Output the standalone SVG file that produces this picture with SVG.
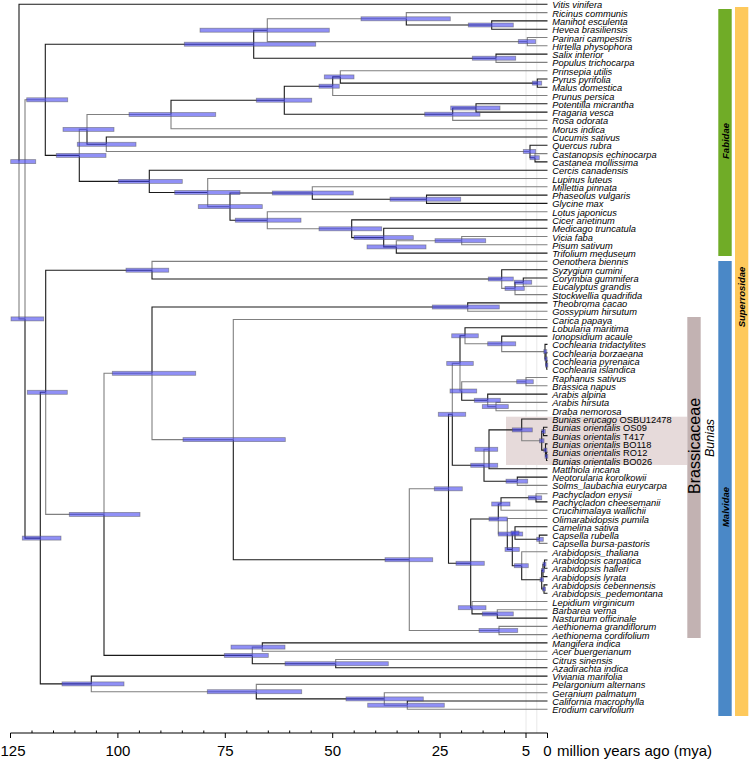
<svg xmlns="http://www.w3.org/2000/svg" width="750" height="760" viewBox="0 0 750 760">
<style>
.k{fill:none;stroke:#1a1a1a;stroke-width:1.1}
.g{fill:none;stroke:#808080;stroke-width:1.1}
.ci{fill:#4646f0;fill-opacity:0.6;stroke:#555;stroke-opacity:0.55;stroke-width:0.8}
.tx{font-family:"Liberation Sans",Arial,sans-serif;font-style:italic;font-size:9.3px;fill:#000}
.up{font-style:normal}
.ax{font-family:"Liberation Sans",Arial,sans-serif;font-size:15px;fill:#000}
.cl{font-family:"Liberation Sans",Arial,sans-serif;font-weight:bold;font-style:italic;font-size:9.5px;fill:#000}
.grid{stroke:#e8e8e8;stroke-width:1}
.tick{stroke:#000;stroke-width:1}
</style>
<rect width="750" height="760" fill="#fff"/>
<line class="grid" x1="526" y1="0" x2="526" y2="733"/>
<line class="grid" x1="536.8" y1="0" x2="536.8" y2="733"/>
<g id="bunias-highlight"><rect x="506" y="416.7" width="181.3" height="48.3" fill="#e6dada"/></g>
<g id="clade-bars">
<rect x="718.3" y="9" width="13.4" height="247" fill="#70ac27"/>
<rect x="718.3" y="261" width="13.4" height="455" fill="#4a88c7"/>
<rect x="735" y="7" width="13.3" height="709" fill="#fec95c"/>
<rect x="687.3" y="317" width="13.4" height="321" fill="#c2b2b2"/>
<text class="cl" transform="translate(729.3,141) rotate(-90)" text-anchor="middle">Fabidae</text>
<text class="cl" transform="translate(729.3,507) rotate(-90)" text-anchor="middle">Malvidae</text>
<text class="cl" transform="translate(745,297) rotate(-90)" text-anchor="middle">Superrosidae</text>
<text transform="translate(699.8,446) rotate(-90)" text-anchor="middle" font-family="Liberation Sans, Arial, sans-serif" font-size="16">Brassicaceae</text>
<text transform="translate(714.3,438) rotate(-90)" text-anchor="middle" font-family="Liberation Sans, Arial, sans-serif" font-size="12.5" font-style="italic">Bunias</text>
</g>
<g id="connectors">
<path class="k" d="M19 161.6V4.3H547.5"/>
<path class="k" d="M25 318.9V538.1H40.3"/>
<path class="k" d="M45.3 99.8V44.2H253.7"/>
<path class="k" d="M45.3 99.8V155.4H79.3"/>
<path class="k" d="M253.7 44.2V30.2H267.3"/>
<path class="k" d="M253.7 44.2V58.2H496"/>
<path class="k" d="M406.3 18.8V25H491.7"/>
<path class="k" d="M491.7 25V20.9H547.5"/>
<path class="k" d="M491.7 25V29.2H547.5"/>
<path class="k" d="M496 58.2V54.1H547.5"/>
<path class="k" d="M79.3 155.4V181.4H149.3"/>
<path class="k" d="M87 129.4V144.3H106.3"/>
<path class="k" d="M171 114.5V100.2H284.3"/>
<path class="k" d="M284.3 100.2V86.2H332.7"/>
<path class="k" d="M284.3 100.2V114.2H452.7"/>
<path class="k" d="M332.7 86.2V76.9H340.3"/>
<path class="k" d="M340.3 76.9V83.1H537.3"/>
<path class="k" d="M537.3 83.1V79H547.5"/>
<path class="k" d="M537.3 83.1V87.2H547.5"/>
<path class="k" d="M452.7 114.2V108H476"/>
<path class="k" d="M476 108V103.8H547.5"/>
<path class="k" d="M476 108V112.1H547.5"/>
<path class="k" d="M106.3 144.3V137H547.5"/>
<path class="k" d="M530 151.5V145.3H547.5"/>
<path class="k" d="M530 151.5V157.7H535"/>
<path class="k" d="M535 157.7V161.9H547.5"/>
<path class="k" d="M149.3 181.4V170.2H547.5"/>
<path class="k" d="M149.3 181.4V192.5H207.7"/>
<path class="k" d="M230 206.6V193H312.3"/>
<path class="k" d="M230 206.6V220.2H267.3"/>
<path class="k" d="M312.3 193V199.2H426.5"/>
<path class="k" d="M426.5 199.2V195.1H547.5"/>
<path class="k" d="M426.5 199.2V203.4H547.5"/>
<path class="k" d="M351.7 228.8V219.9H547.5"/>
<path class="k" d="M351.7 228.8V237.6H383.7"/>
<path class="k" d="M383.7 237.6V228.2H547.5"/>
<path class="k" d="M383.7 237.6V246.9H396.3"/>
<path class="k" d="M396.3 246.9V253.1H547.5"/>
<path class="k" d="M40.3 538.1V392.3H45.7"/>
<path class="k" d="M40.3 538.1V683.9H91.3"/>
<path class="k" d="M45.7 392.3V270.2H152"/>
<path class="k" d="M152 270.2V279H501.7"/>
<path class="k" d="M501.7 279V269.7H547.5"/>
<path class="k" d="M515 288.4V282.2H523.3"/>
<path class="k" d="M523.3 282.2V278H547.5"/>
<path class="k" d="M104 514.4V655.4H252.3"/>
<path class="k" d="M152 373.3V307H467.7"/>
<path class="k" d="M467.7 307V302.9H547.5"/>
<path class="k" d="M233.3 439.6V559.7H409.3"/>
<path class="k" d="M448.5 488.8V414.3H452.3"/>
<path class="k" d="M448.5 488.8V563.3H470.7"/>
<path class="k" d="M452.3 414.3V465.3H484"/>
<path class="k" d="M460 363.4V335.8H465"/>
<path class="k" d="M465 335.8V327.8H547.5"/>
<path class="k" d="M501.7 343.8V336.1H547.5"/>
<path class="k" d="M545 351.6V344.4H547.5"/>
<path class="k" d="M545 351.6V358.9H546"/>
<path class="k" d="M546 358.9V352.7H547.5"/>
<path class="k" d="M546 358.9V365.1H546.7"/>
<path class="k" d="M546.7 365.1V360.9H547.5"/>
<path class="k" d="M546.7 365.1V369.2H547.5"/>
<path class="k" d="M461.7 391V400.3H487.7"/>
<path class="k" d="M487.7 400.3V394.1H547.5"/>
<path class="k" d="M484 465.3V481.2H517.3"/>
<path class="k" d="M489 449.3V429.9H521.7"/>
<path class="k" d="M489 449.3V468.8H547.5"/>
<path class="k" d="M521.7 429.9V419H547.5"/>
<path class="k" d="M541.7 440.8V431.4H543.5"/>
<path class="k" d="M541.7 440.8V450.1H545.5"/>
<path class="k" d="M543.5 431.4V427.3H547.5"/>
<path class="k" d="M543.5 431.4V435.6H547.5"/>
<path class="k" d="M545.5 450.1V443.9H547.5"/>
<path class="k" d="M545.5 450.1V456.3H546.5"/>
<path class="k" d="M546.5 456.3V452.2H547.5"/>
<path class="k" d="M546.5 456.3V460.5H547.5"/>
<path class="k" d="M517.3 481.2V477.1H547.5"/>
<path class="k" d="M470.7 563.3V519H498.3"/>
<path class="k" d="M470.7 563.3V607.7H472"/>
<path class="k" d="M498.3 519V504H501"/>
<path class="k" d="M501 504V497.8H536"/>
<path class="k" d="M536 497.8V501.9H547.5"/>
<path class="k" d="M507.3 534V549.4H512.3"/>
<path class="k" d="M512.3 549.4V533H515"/>
<path class="k" d="M512.3 549.4V565.7H521.7"/>
<path class="k" d="M515 533V526.8H547.5"/>
<path class="k" d="M515 533V539.3H539.3"/>
<path class="k" d="M539.3 539.3V535.1H547.5"/>
<path class="k" d="M521.7 565.7V579.7H541.7"/>
<path class="k" d="M541.7 579.7V570.4H543"/>
<path class="k" d="M541.7 579.7V589H544"/>
<path class="k" d="M543 570.4V564.2H544.5"/>
<path class="k" d="M543 570.4V576.6H547.5"/>
<path class="k" d="M544.5 564.2V560H547.5"/>
<path class="k" d="M544.5 564.2V568.3H547.5"/>
<path class="k" d="M544 589V584.9H547.5"/>
<path class="k" d="M544 589V593.2H547.5"/>
<path class="k" d="M472 607.7V613.9H497.3"/>
<path class="k" d="M497.3 613.9V618.1H547.5"/>
<path class="k" d="M252.3 655.4V663.7H335.7"/>
<path class="k" d="M262.3 647.1V642.9H547.5"/>
<path class="k" d="M335.7 663.7V667.8H547.5"/>
<path class="k" d="M91.3 683.9V676.1H547.5"/>
<path class="k" d="M256.3 691.7V698.9H384.3"/>
<path class="k" d="M407.3 705.2V701H547.5"/>
<path class="g" d="M19 161.6V318.9H25"/>
<path class="g" d="M25 318.9V99.8H45.3"/>
<path class="g" d="M267.3 30.2V18.8H406.3"/>
<path class="g" d="M267.3 30.2V41.6H527.3"/>
<path class="g" d="M406.3 18.8V12.6H547.5"/>
<path class="g" d="M527.3 41.6V37.5H547.5"/>
<path class="g" d="M527.3 41.6V45.8H547.5"/>
<path class="g" d="M496 58.2V62.4H547.5"/>
<path class="g" d="M79.3 155.4V129.4H87"/>
<path class="g" d="M87 129.4V114.5H171"/>
<path class="g" d="M171 114.5V128.7H547.5"/>
<path class="g" d="M332.7 86.2V95.5H547.5"/>
<path class="g" d="M340.3 76.9V70.7H547.5"/>
<path class="g" d="M452.7 114.2V120.4H547.5"/>
<path class="g" d="M106.3 144.3V151.5H530"/>
<path class="g" d="M535 157.7V153.6H547.5"/>
<path class="g" d="M207.7 192.5V178.5H547.5"/>
<path class="g" d="M207.7 192.5V206.6H230"/>
<path class="g" d="M312.3 193V186.8H547.5"/>
<path class="g" d="M267.3 220.2V211.7H547.5"/>
<path class="g" d="M267.3 220.2V228.8H351.7"/>
<path class="g" d="M396.3 246.9V240.7H461.7"/>
<path class="g" d="M461.7 240.7V236.5H547.5"/>
<path class="g" d="M461.7 240.7V244.8H547.5"/>
<path class="g" d="M45.7 392.3V514.4H104"/>
<path class="g" d="M152 270.2V261.4H547.5"/>
<path class="g" d="M501.7 279V288.4H515"/>
<path class="g" d="M515 288.4V294.6H547.5"/>
<path class="g" d="M523.3 282.2V286.3H547.5"/>
<path class="g" d="M104 514.4V373.3H152"/>
<path class="g" d="M152 373.3V439.6H233.3"/>
<path class="g" d="M467.7 307V311.2H547.5"/>
<path class="g" d="M233.3 439.6V319.5H547.5"/>
<path class="g" d="M409.3 559.7V488.8H448.5"/>
<path class="g" d="M409.3 559.7V630.5H499"/>
<path class="g" d="M499 630.5V626.4H547.5"/>
<path class="g" d="M499 630.5V634.6H547.5"/>
<path class="g" d="M452.3 414.3V363.4H460"/>
<path class="g" d="M460 363.4V391H461.7"/>
<path class="g" d="M465 335.8V343.8H501.7"/>
<path class="g" d="M501.7 343.8V351.6H545"/>
<path class="g" d="M461.7 391V381.7H526"/>
<path class="g" d="M526 381.7V377.5H547.5"/>
<path class="g" d="M526 381.7V385.8H547.5"/>
<path class="g" d="M487.7 400.3V406.6H496"/>
<path class="g" d="M496 406.6V402.4H547.5"/>
<path class="g" d="M496 406.6V410.7H547.5"/>
<path class="g" d="M484 465.3V449.3H489"/>
<path class="g" d="M521.7 429.9V440.8H541.7"/>
<path class="g" d="M517.3 481.2V485.4H547.5"/>
<path class="g" d="M498.3 519V534H507.3"/>
<path class="g" d="M501 504V510.2H547.5"/>
<path class="g" d="M536 497.8V493.7H547.5"/>
<path class="g" d="M507.3 534V518.5H547.5"/>
<path class="g" d="M539.3 539.3V543.4H547.5"/>
<path class="g" d="M521.7 565.7V551.7H547.5"/>
<path class="g" d="M472 607.7V601.5H547.5"/>
<path class="g" d="M497.3 613.9V609.8H547.5"/>
<path class="g" d="M252.3 655.4V647.1H262.3"/>
<path class="g" d="M262.3 647.1V651.2H547.5"/>
<path class="g" d="M335.7 663.7V659.5H547.5"/>
<path class="g" d="M91.3 683.9V691.7H256.3"/>
<path class="g" d="M256.3 691.7V684.4H547.5"/>
<path class="g" d="M384.3 698.9V692.7H547.5"/>
<path class="g" d="M384.3 698.9V705.2H407.3"/>
<path class="g" d="M407.3 705.2V709.3H547.5"/>
</g>
<g id="nodes">
<g id="n-root"><rect class="ci" x="10.7" y="159.6" width="25" height="4"/></g>
<g id="n-A"><rect class="ci" x="11" y="316.9" width="32.7" height="4"/></g>
<g id="n-fab"><rect class="ci" x="26.7" y="97.8" width="41" height="4"/></g>
<g id="n-B"><rect class="ci" x="22.3" y="536.1" width="38.7" height="4"/></g>
<g id="n-C"><rect class="ci" x="27.3" y="390.3" width="40" height="4"/></g>
<g id="n-D"><rect class="ci" x="62" y="681.9" width="62" height="4"/></g>
<g id="n-253"><rect class="ci" x="184.3" y="42.2" width="131.4" height="4"/></g>
<g id="n-267"><rect class="ci" x="200" y="28.2" width="129.3" height="4"/></g>
<g id="n-406"><rect class="ci" x="361" y="16.8" width="89.3" height="4"/></g>
<g id="n-MH"><rect class="ci" x="468.3" y="23" width="45" height="4"/></g>
<g id="n-PH"><rect class="ci" x="518.3" y="39.6" width="17.4" height="4"/></g>
<g id="n-SP"><rect class="ci" x="472.3" y="56.2" width="43.4" height="4"/></g>
<g id="n-79"><rect class="ci" x="56.3" y="153.4" width="49.7" height="4"/></g>
<g id="n-87"><rect class="ci" x="63" y="127.4" width="51" height="4"/></g>
<g id="n-171"><rect class="ci" x="129" y="112.5" width="86.7" height="4"/></g>
<g id="n-284"><rect class="ci" x="256.3" y="98.2" width="55.4" height="4"/></g>
<g id="n-333"><rect class="ci" x="319" y="84.2" width="20.3" height="4"/></g>
<g id="n-340"><rect class="ci" x="324.3" y="74.9" width="29.7" height="4"/></g>
<g id="n-PM"><rect class="ci" x="532.3" y="81.1" width="9.4" height="4"/></g>
<g id="n-453"><rect class="ci" x="424.7" y="112.2" width="55.3" height="4"/></g>
<g id="n-476"><rect class="ci" x="450.7" y="106" width="49.3" height="4"/></g>
<g id="n-106"><rect class="ci" x="77.3" y="142.3" width="58.7" height="4"/></g>
<g id="n-fag"><rect class="ci" x="523.3" y="149.5" width="12.4" height="4"/></g>
<g id="n-CC"><rect class="ci" x="530" y="155.7" width="9.3" height="4"/></g>
<g id="n-149"><rect class="ci" x="118.3" y="179.4" width="64" height="4"/></g>
<g id="n-208"><rect class="ci" x="174.7" y="190.5" width="65.3" height="4"/></g>
<g id="n-230"><rect class="ci" x="198.3" y="204.6" width="64" height="4"/></g>
<g id="n-312"><rect class="ci" x="272.3" y="191" width="81" height="4"/></g>
<g id="n-PG"><rect class="ci" x="390" y="197.2" width="70.7" height="4"/></g>
<g id="n-267b"><rect class="ci" x="235.3" y="218.2" width="65.7" height="4"/></g>
<g id="n-352"><rect class="ci" x="319" y="226.8" width="62.7" height="4"/></g>
<g id="n-384"><rect class="ci" x="354" y="235.6" width="59.3" height="4"/></g>
<g id="n-396"><rect class="ci" x="367" y="244.9" width="59" height="4"/></g>
<g id="n-VP"><rect class="ci" x="435" y="238.7" width="50.7" height="4"/></g>
<g id="n-myrt"><rect class="ci" x="126" y="268.2" width="42.7" height="4"/></g>
<g id="n-myrc"><rect class="ci" x="488.3" y="277" width="25" height="4"/></g>
<g id="n-E1"><rect class="ci" x="505" y="286.4" width="19.3" height="4"/></g>
<g id="n-E2"><rect class="ci" x="514.3" y="280.2" width="17.4" height="4"/></g>
<g id="n-104"><rect class="ci" x="69.3" y="512.4" width="70.7" height="4"/></g>
<g id="n-152"><rect class="ci" x="112.3" y="371.3" width="83.4" height="4"/></g>
<g id="n-malv"><rect class="ci" x="432.3" y="305" width="67" height="4"/></g>
<g id="n-233"><rect class="ci" x="183" y="437.6" width="102.3" height="4"/></g>
<g id="n-bra"><rect class="ci" x="385" y="557.7" width="47.7" height="4"/></g>
<g id="n-aeth"><rect class="ci" x="479" y="628.5" width="38.7" height="4"/></g>
<g id="n-P"><rect class="ci" x="434.3" y="486.8" width="28" height="4"/></g>
<g id="n-M1"><rect class="ci" x="438.3" y="412.3" width="27.4" height="4"/></g>
<g id="n-N1"><rect class="ci" x="446.7" y="361.4" width="26.6" height="4"/></g>
<g id="n-L1"><rect class="ci" x="451.7" y="333.8" width="26.6" height="4"/></g>
<g id="n-L2"><rect class="ci" x="487.7" y="341.8" width="28" height="4"/></g>
<g id="n-C1"><rect class="ci" x="543.8" y="349.6" width="3" height="4"/></g>
<g id="n-C2"><rect class="ci" x="544.8" y="356.9" width="2.4" height="4"/></g>
<g id="n-C3"><rect class="ci" x="545.5" y="363.1" width="2.3" height="4"/></g>
<g id="n-N2"><rect class="ci" x="450" y="389" width="26.7" height="4"/></g>
<g id="n-RB"><rect class="ci" x="516.7" y="379.7" width="16.6" height="4"/></g>
<g id="n-AN"><rect class="ci" x="474.3" y="398.3" width="26" height="4"/></g>
<g id="n-A2"><rect class="ci" x="482.3" y="404.6" width="26" height="4"/></g>
<g id="n-M2"><rect class="ci" x="470.7" y="463.3" width="27" height="4"/></g>
<g id="n-M3"><rect class="ci" x="475" y="447.3" width="22.7" height="4"/></g>
<g id="n-bun"><rect class="ci" x="512.3" y="427.9" width="20" height="4"/></g>
<g id="n-bor"><rect class="ci" x="539.5" y="438.8" width="4.5" height="4"/></g>
<g id="n-OT"><rect class="ci" x="541.8" y="429.4" width="3.5" height="4"/></g>
<g id="n-BO"><rect class="ci" x="543.8" y="448.1" width="3.2" height="4"/></g>
<g id="n-RB2"><rect class="ci" x="545" y="454.3" width="2.8" height="4"/></g>
<g id="n-NS"><rect class="ci" x="506" y="479.2" width="21.7" height="4"/></g>
<g id="n-R"><rect class="ci" x="456" y="561.3" width="28.3" height="4"/></g>
<g id="n-519"><rect class="ci" x="489" y="517" width="18.3" height="4"/></g>
<g id="n-PC"><rect class="ci" x="491.7" y="502" width="18.3" height="4"/></g>
<g id="n-pach"><rect class="ci" x="528.3" y="495.8" width="13.4" height="4"/></g>
<g id="n-S"><rect class="ci" x="498.3" y="532" width="24.4" height="4"/></g>
<g id="n-T"><rect class="ci" x="505" y="547.4" width="14.3" height="4"/></g>
<g id="n-camcap"><rect class="ci" x="511" y="531" width="8" height="4"/></g>
<g id="n-cap"><rect class="ci" x="536.7" y="537.3" width="6.6" height="4"/></g>
<g id="n-W"><rect class="ci" x="514.3" y="563.7" width="14" height="4"/></g>
<g id="n-AL"><rect class="ci" x="540" y="577.7" width="3.5" height="4"/></g>
<g id="n-CHL"><rect class="ci" x="541.5" y="568.4" width="3" height="4"/></g>
<g id="n-CH"><rect class="ci" x="543" y="562.2" width="3" height="4"/></g>
<g id="n-CP"><rect class="ci" x="542.5" y="587" width="3" height="4"/></g>
<g id="n-Q"><rect class="ci" x="458.3" y="605.7" width="27.7" height="4"/></g>
<g id="n-BN"><rect class="ci" x="482.3" y="611.9" width="31" height="4"/></g>
<g id="n-sap"><rect class="ci" x="224.3" y="653.4" width="44" height="4"/></g>
<g id="n-MA"><rect class="ci" x="231" y="645.1" width="54" height="4"/></g>
<g id="n-CA"><rect class="ci" x="285" y="661.7" width="103.3" height="4"/></g>
<g id="n-ger"><rect class="ci" x="207.3" y="689.7" width="94.4" height="4"/></g>
<g id="n-G1"><rect class="ci" x="346" y="696.9" width="77.3" height="4"/></g>
<g id="n-G2"><rect class="ci" x="367.7" y="703.2" width="76.6" height="4"/></g>
</g>
<g id="tips" class="tx">
<g id="tip01"><text x="552.3" y="8.3">Vitis vinifera</text></g>
<g id="tip02"><text x="552.3" y="16.6">Ricinus communis</text></g>
<g id="tip03"><text x="552.3" y="24.9">Manihot esculenta</text></g>
<g id="tip04"><text x="552.3" y="33.2">Hevea brasiliensis</text></g>
<g id="tip05"><text x="552.3" y="41.5">Parinari campestris</text></g>
<g id="tip06"><text x="552.3" y="49.8">Hirtella physophora</text></g>
<g id="tip07"><text x="552.3" y="58.1">Salix interior</text></g>
<g id="tip08"><text x="552.3" y="66.4">Populus trichocarpa</text></g>
<g id="tip09"><text x="552.3" y="74.7">Prinsepia utilis</text></g>
<g id="tip10"><text x="552.3" y="83">Pyrus pyrifolia</text></g>
<g id="tip11"><text x="552.3" y="91.2">Malus domestica</text></g>
<g id="tip12"><text x="552.3" y="99.5">Prunus persica</text></g>
<g id="tip13"><text x="552.3" y="107.8">Potentilla micrantha</text></g>
<g id="tip14"><text x="552.3" y="116.1">Fragaria vesca</text></g>
<g id="tip15"><text x="552.3" y="124.4">Rosa odorata</text></g>
<g id="tip16"><text x="552.3" y="132.7">Morus indica</text></g>
<g id="tip17"><text x="552.3" y="141">Cucumis sativus</text></g>
<g id="tip18"><text x="552.3" y="149.3">Quercus rubra</text></g>
<g id="tip19"><text x="552.3" y="157.6">Castanopsis echinocarpa</text></g>
<g id="tip20"><text x="552.3" y="165.9">Castanea mollissima</text></g>
<g id="tip21"><text x="552.3" y="174.2">Cercis canadensis</text></g>
<g id="tip22"><text x="552.3" y="182.5">Lupinus luteus</text></g>
<g id="tip23"><text x="552.3" y="190.8">Millettia pinnata</text></g>
<g id="tip24"><text x="552.3" y="199.1">Phaseolus vulgaris</text></g>
<g id="tip25"><text x="552.3" y="207.4">Glycine max</text></g>
<g id="tip26"><text x="552.3" y="215.7">Lotus japonicus</text></g>
<g id="tip27"><text x="552.3" y="223.9">Cicer arietinum</text></g>
<g id="tip28"><text x="552.3" y="232.2">Medicago truncatula</text></g>
<g id="tip29"><text x="552.3" y="240.5">Vicia faba</text></g>
<g id="tip30"><text x="552.3" y="248.8">Pisum sativum</text></g>
<g id="tip31"><text x="552.3" y="257.1">Trifolium meduseum</text></g>
<g id="tip32"><text x="552.3" y="265.4">Oenothera biennis</text></g>
<g id="tip33"><text x="552.3" y="273.7">Syzygium cumini</text></g>
<g id="tip34"><text x="552.3" y="282">Corymbia gummifera</text></g>
<g id="tip35"><text x="552.3" y="290.3">Eucalyptus grandis</text></g>
<g id="tip36"><text x="552.3" y="298.6">Stockwellia quadrifida</text></g>
<g id="tip37"><text x="552.3" y="306.9">Theobroma cacao</text></g>
<g id="tip38"><text x="552.3" y="315.2">Gossypium hirsutum</text></g>
<g id="tip39"><text x="552.3" y="323.5">Carica papaya</text></g>
<g id="tip40"><text x="552.3" y="331.8">Lobularia maritima</text></g>
<g id="tip41"><text x="552.3" y="340.1">Ionopsidium acaule</text></g>
<g id="tip42"><text x="552.3" y="348.4">Cochlearia tridactylites</text></g>
<g id="tip43"><text x="552.3" y="356.7">Cochlearia borzaeana</text></g>
<g id="tip44"><text x="552.3" y="364.9">Cochlearia pyrenaica</text></g>
<g id="tip45"><text x="552.3" y="373.2">Cochlearia islandica</text></g>
<g id="tip46"><text x="552.3" y="381.5">Raphanus sativus</text></g>
<g id="tip47"><text x="552.3" y="389.8">Brassica napus</text></g>
<g id="tip48"><text x="552.3" y="398.1">Arabis alpina</text></g>
<g id="tip49"><text x="552.3" y="406.4">Arabis hirsuta</text></g>
<g id="tip50"><text x="552.3" y="414.7">Draba nemorosa</text></g>
<g id="tip51"><text x="552.3" y="423">Bunias erucago <tspan class="up">OSBU12478</tspan></text></g>
<g id="tip52"><text x="552.3" y="431.3">Bunias orientalis <tspan class="up">OS09</tspan></text></g>
<g id="tip53"><text x="552.3" y="439.6">Bunias orientalis <tspan class="up">T417</tspan></text></g>
<g id="tip54"><text x="552.3" y="447.9">Bunias orientalis <tspan class="up">BO118</tspan></text></g>
<g id="tip55"><text x="552.3" y="456.2">Bunias orientalis <tspan class="up">RO12</tspan></text></g>
<g id="tip56"><text x="552.3" y="464.5">Bunias orientalis <tspan class="up">BO026</tspan></text></g>
<g id="tip57"><text x="552.3" y="472.8">Matthiola incana</text></g>
<g id="tip58"><text x="552.3" y="481.1">Neotorularia korolkowii</text></g>
<g id="tip59"><text x="552.3" y="489.4">Solms_laubachia eurycarpa</text></g>
<g id="tip60"><text x="552.3" y="497.7">Pachycladon enysii</text></g>
<g id="tip61"><text x="552.3" y="505.9">Pachycladon cheesemanii</text></g>
<g id="tip62"><text x="552.3" y="514.2">Crucihimalaya wallichii</text></g>
<g id="tip63"><text x="552.3" y="522.5">Olimarabidopsis pumila</text></g>
<g id="tip64"><text x="552.3" y="530.8">Camelina sativa</text></g>
<g id="tip65"><text x="552.3" y="539.1">Capsella rubella</text></g>
<g id="tip66"><text x="552.3" y="547.4">Capsella bursa-pastoris</text></g>
<g id="tip67"><text x="552.3" y="555.7">Arabidopsis_thaliana</text></g>
<g id="tip68"><text x="552.3" y="564">Arabidopsis carpatica</text></g>
<g id="tip69"><text x="552.3" y="572.3">Arabidopsis halleri</text></g>
<g id="tip70"><text x="552.3" y="580.6">Arabidopsis lyrata</text></g>
<g id="tip71"><text x="552.3" y="588.9">Arabidopsis cebennensis</text></g>
<g id="tip72"><text x="552.3" y="597.2">Arabidopsis_pedemontana</text></g>
<g id="tip73"><text x="552.3" y="605.5">Lepidium virginicum</text></g>
<g id="tip74"><text x="552.3" y="613.8">Barbarea verna</text></g>
<g id="tip75"><text x="552.3" y="622.1">Nasturtium officinale</text></g>
<g id="tip76"><text x="552.3" y="630.4">Aethionema grandiflorum</text></g>
<g id="tip77"><text x="552.3" y="638.6">Aethionema cordifolium</text></g>
<g id="tip78"><text x="552.3" y="646.9">Mangifera indica</text></g>
<g id="tip79"><text x="552.3" y="655.2">Acer buergerianum</text></g>
<g id="tip80"><text x="552.3" y="663.5">Citrus sinensis</text></g>
<g id="tip81"><text x="552.3" y="671.8">Azadirachta indica</text></g>
<g id="tip82"><text x="552.3" y="680.1">Viviania marifolia</text></g>
<g id="tip83"><text x="552.3" y="688.4">Pelargonium alternans</text></g>
<g id="tip84"><text x="552.3" y="696.7">Geranium palmatum</text></g>
<g id="tip85"><text x="552.3" y="705">California macrophylla</text></g>
<g id="tip86"><text x="552.3" y="713.3">Erodium carvifolium</text></g>
</g>
<g id="axis">
<line class="tick" x1="10.5" y1="733" x2="547.5" y2="733"/>
<path class="tick" fill="none" d="M547.5 733V738M526 733V738M504.5 733V730.5M483.1 733V730.5M461.6 733V730.5M440.1 733V738M418.6 733V730.5M397.1 733V730.5M375.7 733V730.5M354.2 733V730.5M332.7 733V738M311.2 733V730.5M289.7 733V730.5M268.3 733V730.5M246.8 733V730.5M225.3 733V738M203.8 733V730.5M182.3 733V730.5M160.9 733V730.5M139.4 733V730.5M117.9 733V738M96.4 733V730.5M74.9 733V730.5M53.5 733V730.5M32 733V730.5M10.5 733V738"/>
<g class="ax" text-anchor="middle">
<text x="13" y="756">125</text>
<text x="117.9" y="756">100</text>
<text x="225.3" y="756">75</text>
<text x="332.7" y="756">50</text>
<text x="440.1" y="756">25</text>
<text x="526" y="756">5</text>
<text x="547.5" y="756">0</text>
</g>
<text class="ax" x="557" y="756">million years ago (mya)</text>
</g>
</svg>
